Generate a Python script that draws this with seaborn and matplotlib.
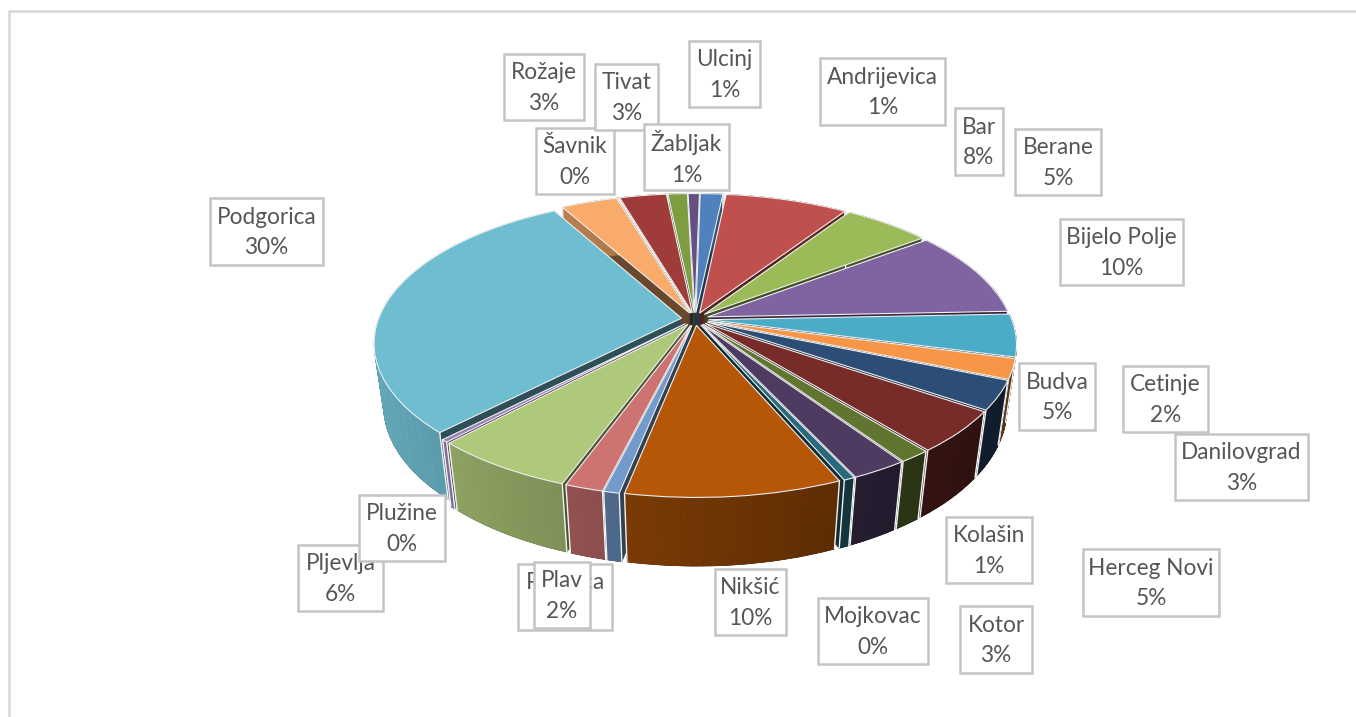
import numpy as np
import matplotlib
matplotlib.use("Agg")
import matplotlib.pyplot as plt
import seaborn as sns
from matplotlib.collections import PolyCollection
from matplotlib.colors import to_rgb
from matplotlib.patches import Rectangle
from matplotlib.transforms import Transform

# Municipalities in the order of the slices (clockwise from the top)
towns = ["Andrijevica", "Bar", "Berane", "Bijelo Polje", "Budva", "Cetinje", "Danilovgrad",
         "Herceg Novi", "Kolašin", "Kotor", "Mojkovac", "Nikšić", "Petnjica", "Plav",
         "Pljevlja", "Plužine", "Podgorica", "Rožaje", "Šavnik", "Tivat", "Ulcinj", "Žabljak"]
# Slice sizes, the printed labels are rounded
shares = [1.4, 7.6, 5.4, 9.6, 4.7, 2.2, 3.2, 4.6, 1.4, 2.5, 0.5, 9.6, 0.7, 1.7, 6.4, 0.3,
          29.5, 3.5, 0.05, 2.9, 1.2, 0.7]
printed = ["1%", "8%", "5%", "10%", "5%", "2%", "3%", "5%", "1%", "3%", "0%", "10%", "1%", "2%",
           "6%", "0%", "30%", "3%", "0%", "3%", "1%", "1%"]
slice_colors = ["#4F81BD", "#C0504D", "#9BBB59", "#8064A2", "#4BACC6", "#F79646", "#2C4D75",
                "#772C2A", "#5F7530", "#4D3B62", "#276A7C", "#B65708", "#729ACA", "#CD7371",
                "#AFC97A", "#9983B5", "#6FBDD1", "#F9AB6B", "#3A679C", "#9F3B38", "#7E9D40",
                "#664F82"]
# Label boxes in picture pixels: left, top, right, bottom
boxes = [(820, 58, 945, 125), (955, 108, 1003, 175), (1015, 129, 1101, 195), (1060, 219, 1183, 285),
         (1019, 363, 1095, 430), (1123, 366, 1208, 432), (1175, 434, 1308, 500), (1083, 549, 1219, 616),
         (946, 517, 1032, 583), (960, 606, 1032, 673), (818, 598, 928, 664), (715, 569, 786, 635),
         (518, 564, 612, 630), (534, 562, 590, 628), (298, 545, 383, 611), (359, 495, 445, 561),
         (210, 198, 323, 265), (504, 54, 584, 120), (536, 128, 614, 194), (595, 64, 658, 130),
         (689, 41, 760, 107), (644, 124, 729, 190)]

sns.set_theme(style="white")
plt.rcParams["font.family"] = ["Lato", "DejaVu Sans"]

# View of the tilted disc, in picture pixels
CX, CY = 695, 319
A, B, D = 303, 141, 64
P, Q = 0.167, 0.03
LAYERS = 30
EXPLODE = [0.045] * len(shares)


def project(xy, z):
    w = 1 + P * xy[:, 1] + Q * z
    return np.column_stack([CX + A * xy[:, 0] / w, CY - B * xy[:, 1] / w + D * z / w])


class DiscView(Transform):
    input_dims = 2
    output_dims = 2

    def __init__(self, z):
        super().__init__()
        self.z = z

    def transform_non_affine(self, values):
        return project(np.asarray(values), self.z)


def draw_pie(ax, colors, z, **wedgeprops):
    wedges, _ = ax.pie(shares, colors=colors, explode=EXPLODE, startangle=89,
                       counterclock=False, wedgeprops=wedgeprops)
    view = DiscView(z) + ax.transData
    for w in wedges:
        w.set_transform(view)
    return wedges


fig, ax = plt.subplots(figsize=(13.56, 7.17), dpi=100)
fig.subplots_adjust(0, 0, 1, 1)
palette = sns.color_palette(slice_colors)

# Body of the pie: stacked dark copies, then shaded strips on the outer wall
dark = [tuple(np.array(c) * 0.42) for c in palette]
for layer in range(LAYERS, 0, -1):
    wedges = draw_pie(ax, dark, layer / LAYERS, linewidth=0.6)
    for w, c in zip(wedges, dark):
        w.set_edgecolor(c)
        mid = np.radians((w.theta1 + w.theta2) / 2)
        w.set_zorder(10 - np.sin(mid) * 10 + (LAYERS - layer) * 0.001)

top = draw_pie(ax, palette, 0, linewidth=0.8, edgecolor="#EEEEEE")
for w, c in zip(top, palette):
    w.set_zorder(50)
    mid = np.radians((w.theta1 + w.theta2) / 2)
    order = 10 - np.sin(mid) * 10 + 0.5
    angles = np.radians(np.linspace(w.theta1, w.theta2, 40))
    rim = np.column_stack([w.center[0] + w.r * np.cos(angles), w.center[1] + w.r * np.sin(angles)])
    upper, lower = project(rim, 0), project(rim, 1)
    quads = [[upper[i], upper[i + 1], lower[i + 1], lower[i]] for i in range(len(rim) - 1)]
    shade = 0.62 - 0.27 * rim[:-1, 0]
    strip_colors = [tuple(np.array(to_rgb(c)) * s) for s in shade]
    ax.add_collection(PolyCollection(quads, facecolors=strip_colors, edgecolors=strip_colors,
                                     linewidths=0.5, zorder=order))
    for i in (0, -1):
        ax.plot([upper[i, 0], lower[i, 0]], [upper[i, 1], lower[i, 1]], color="#F2F2F2", lw=1.0,
                zorder=order + 0.01)

# Data labels, later ones lie over earlier ones
for i, (town, pct, box) in enumerate(zip(towns, printed, boxes)):
    x0, y0, x1, y1 = box
    ax.add_patch(Rectangle((x0, y0), x1 - x0, y1 - y0, facecolor="white", edgecolor="#C4C4C4",
                           linewidth=1.8, zorder=100 + 2 * i))
    ax.text((x0 + x1) / 2, (y0 + y1) / 2 + 1, f"{town}\n{pct}", ha="center", va="center",
            fontsize=16.3, color="#565656", linespacing=1.55, zorder=101 + 2 * i)

# Chart area frame, cut off by the picture on the right and at the bottom
ax.plot([9, 9, 1356], [717, 11, 11], color="#DADADA", lw=2, zorder=1)

ax.set_aspect("auto")
ax.set_xlim(0, 1356)
ax.set_ylim(717, 0)
ax.axis("off")
fig.savefig("out.png", dpi=100)
